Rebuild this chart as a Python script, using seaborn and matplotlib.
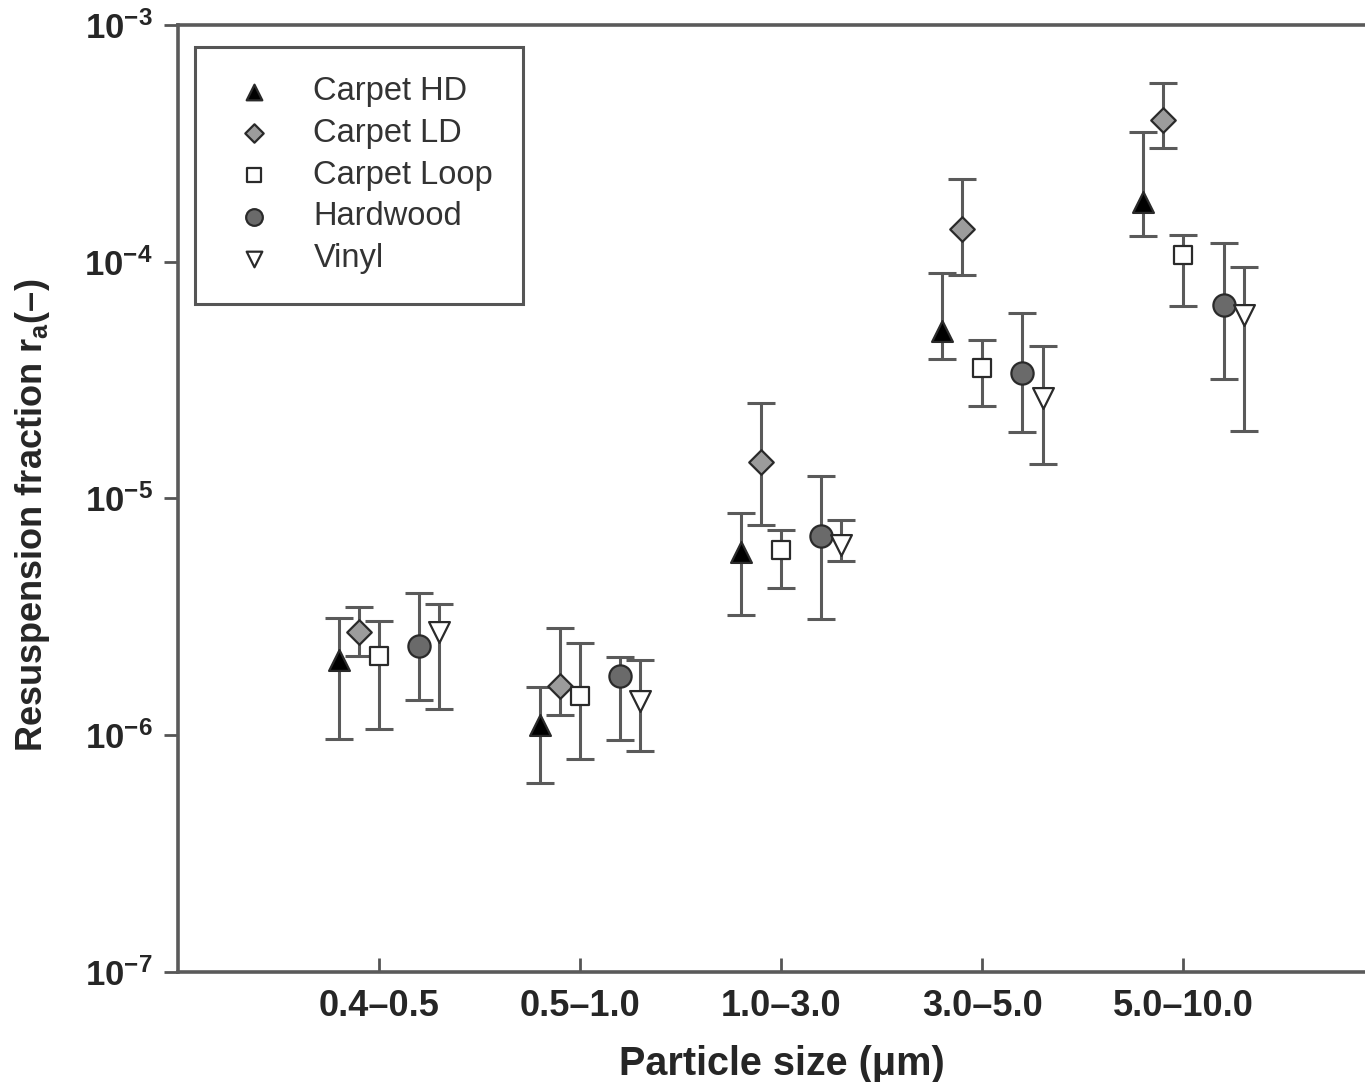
import numpy as np
import pandas as pd
import matplotlib
matplotlib.use("Agg")
import matplotlib.pyplot as plt
from matplotlib.ticker import FixedLocator, FuncFormatter, NullLocator
import seaborn as sns

# Particle size bins
categories = ["0.4\u20130.5", "0.5\u20131.0", "1.0\u20133.0", "3.0\u20135.0", "5.0\u201310.0"]

# Resuspension fraction: central value, lower and upper bound of the error bar
carpet_hd = [2.07e-6, 1.10e-6, 5.96e-6, 5.11e-5, 1.79e-4]
carpet_hd_lo = [9.6e-7, 6.3e-7, 3.22e-6, 3.87e-5, 1.28e-4]
carpet_hd_hi = [3.12e-6, 1.60e-6, 8.66e-6, 8.93e-5, 3.54e-4]

carpet_ld = [2.74e-6, 1.61e-6, 1.43e-5, 1.38e-4, 3.97e-4]
carpet_ld_lo = [2.16e-6, 1.22e-6, 7.73e-6, 8.79e-5, 3.01e-4]
carpet_ld_hi = [3.49e-6, 2.83e-6, 2.52e-5, 2.23e-4, 5.67e-4]

carpet_loop = [2.16e-6, 1.47e-6, 6.06e-6, 3.55e-5, 1.07e-4]
carpet_loop_lo = [1.06e-6, 7.9e-7, 4.17e-6, 2.46e-5, 6.50e-5]
carpet_loop_hi = [3.05e-6, 2.46e-6, 7.36e-6, 4.67e-5, 1.30e-4]

hardwood = [2.38e-6, 1.78e-6, 6.95e-6, 3.38e-5, 6.57e-5]
hardwood_lo = [1.41e-6, 9.55e-7, 3.09e-6, 1.90e-5, 3.19e-5]
hardwood_hi = [3.98e-6, 2.15e-6, 1.24e-5, 6.09e-5, 1.20e-4]

vinyl = [2.74e-6, 1.39e-6, 6.36e-6, 2.65e-5, 5.96e-5]
vinyl_lo = [1.29e-6, 8.6e-7, 5.46e-6, 1.40e-5, 1.93e-5]
vinyl_hi = [3.58e-6, 2.07e-6, 8.11e-6, 4.41e-5, 9.48e-5]

series_names = ["Carpet HD", "Carpet LD", "Carpet Loop", "Hardwood", "Vinyl"]
series_vals = [carpet_hd, carpet_ld, carpet_loop, hardwood, vinyl]
series_lo = [carpet_hd_lo, carpet_ld_lo, carpet_loop_lo, hardwood_lo, vinyl_lo]
series_hi = [carpet_hd_hi, carpet_ld_hi, carpet_loop_hi, hardwood_hi, vinyl_hi]

# Drawing style per floor type
offsets = [-0.2, -0.1, 0.0, 0.2, 0.3]
markers = ["^", "D", "s", "o", "v"]
msizes = [15, 12.5, 12.5, 16, 15]
fills = ["#000000", "#9c9c9c", "#ffffff", "#6a6a6a", "#ffffff"]

sns.set_theme(style="white")
plt.rcParams["font.family"] = ["Liberation Sans", "DejaVu Sans"]
plt.rcParams["mathtext.fontset"] = "custom"
plt.rcParams["mathtext.rm"] = "Liberation Sans:bold"
plt.rcParams["mathtext.bf"] = "Liberation Sans:bold"
plt.rcParams["mathtext.it"] = "Liberation Sans:bold"

fig = plt.figure(figsize=(13.65, 10.82), dpi=100)
ax = fig.add_axes([0.1304, 0.1017, 0.8720, 0.8752])

rows = []
for name, vals, lo, hi, off in zip(series_names, series_vals, series_lo, series_hi, offsets):
    for i, (v, l, h) in enumerate(zip(vals, lo, hi)):
        rows.append({"series": name, "x": i + 1 + off, "value": v, "lo": l, "hi": h})
df = pd.DataFrame(rows)

edge = "#2a2a2a"
bar_color = "#5a5a5a"
for name, mk, ms, fc in zip(series_names, markers, msizes, fills):
    sub = df[df["series"] == name]
    yerr = np.vstack([sub["value"] - sub["lo"], sub["hi"] - sub["value"]])
    ax.errorbar(sub["x"], sub["value"], yerr=yerr, fmt="none", ecolor=bar_color,
                elinewidth=2.2, capsize=10, capthick=2.2, zorder=2, label="_nolegend_")
    sns.scatterplot(data=sub, x="x", y="value", marker=mk, s=ms ** 2, color=fc,
                    edgecolor=edge, linewidth=1.6, label=name, ax=ax, zorder=3, legend=False)

ax.set_yscale("log")
ax.set_ylim(1e-7, 1e-3)
ax.set_xlim(0, 5.92)

ax.yaxis.set_major_locator(FixedLocator([1e-7, 1e-6, 1e-5, 1e-4, 1e-3]))
ax.yaxis.set_minor_locator(NullLocator())
ax.yaxis.set_major_formatter(FuncFormatter(lambda v, p: r"$\mathbf{10^{%d}}$" % int(round(np.log10(v)))))
ax.set_xticks(range(1, len(categories) + 1))
ax.set_xticklabels(categories, fontsize=26, fontweight="bold")

ax.tick_params(axis="y", direction="out", length=10, width=2, color="#555555",
               labelsize=25, pad=8, left=True)
ax.tick_params(axis="x", direction="in", length=10, width=2, color="#555555",
               pad=12, bottom=True)

for side in ["left", "bottom", "top"]:
    ax.spines[side].set_color("#5a5a5a")
    ax.spines[side].set_linewidth(2.6)
ax.spines["right"].set_visible(False)

ax.set_xlabel("Particle size (\u03bcm)", fontsize=28.5, fontweight="bold")
ax.xaxis.set_label_coords(0.507, -0.077)
ax.set_ylabel("Resuspension fraction r$_\\mathrm{a}$(\u2013)", fontsize=26,
              fontweight="bold")
ax.yaxis.set_label_coords(-0.106, 0.4826)

handles, labels = ax.get_legend_handles_labels()
leg = ax.legend(handles, labels, loc="upper left", bbox_to_anchor=(0.014, 0.977),
                borderaxespad=0, fontsize=23.5, frameon=True, fancybox=False,
                framealpha=1, edgecolor="#555555", borderpad=0.9, markerscale=0.75,
                handletextpad=0.9, labelspacing=0.33, handlelength=1.84)
leg.get_frame().set_linewidth(2.2)
for t in leg.get_texts():
    t.set_color("#333333")

fig.savefig("out.png", dpi=100)
